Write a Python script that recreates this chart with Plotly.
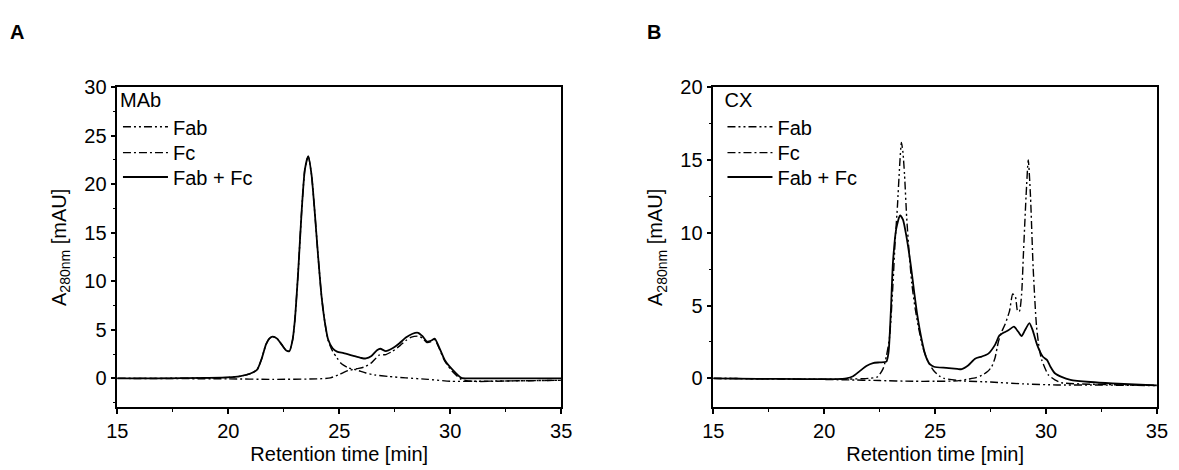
import plotly.graph_objects as go

# ---------------- Panel A (MAb) ----------------
a_total_t = [15, 17, 19, 20, 20.5, 21.0, 21.3, 21.5, 21.7, 21.85, 22.0, 22.2, 22.4, 22.6, 22.75, 22.9,
             23.0, 23.15, 23.3, 23.45, 23.6, 23.75, 23.9, 24.05, 24.2, 24.35, 24.5, 24.7, 24.9, 25.2,
             25.6, 26.0, 26.2, 26.45, 26.7, 26.85, 27.1, 27.4, 27.7, 28.0, 28.3, 28.55, 28.75, 28.95,
             29.15, 29.3, 29.5, 29.75, 30.1, 30.5, 30.9, 31.5, 33, 35]
a_total_v = [0.0, 0.0, 0.05, 0.1, 0.2, 0.5, 0.9, 2.0, 3.5, 4.1, 4.3, 4.1, 3.5, 2.9, 2.8, 4.0,
             6.0, 11.0, 17.0, 21.5, 22.9, 21.0, 17.0, 12.5, 8.5, 5.8, 4.0, 3.1, 2.75, 2.6,
             2.35, 2.1, 2.05, 2.3, 2.9, 3.05, 2.8, 3.1, 3.6, 4.2, 4.6, 4.7, 4.35, 3.8,
             3.9, 4.1, 3.2, 1.9, 0.9, 0.05, 0.0, 0.0, 0.0, 0.0]

a_fab_t = [15, 17, 19, 20, 20.5, 21.0, 21.3, 21.5, 21.7, 21.85, 22.0, 22.2, 22.4, 22.6, 22.75, 22.9,
           23.0, 23.15, 23.3, 23.45, 23.6, 23.75, 23.9, 24.05, 24.2, 24.35, 24.5, 24.7, 24.9, 25.1,
           25.4, 25.8, 26.2, 26.6, 27.2, 28.0, 29.0, 30.0, 31.0, 33.0, 35.0]
a_fab_v = [0.0, 0.0, 0.05, 0.1, 0.2, 0.5, 0.9, 2.0, 3.5, 4.1, 4.3, 4.1, 3.5, 2.9, 2.8, 4.0,
           6.0, 11.0, 17.0, 21.5, 22.9, 21.0, 17.0, 12.5, 8.5, 5.8, 3.9, 2.8, 2.1, 1.5,
           1.1, 0.85, 0.55, 0.35, 0.2, 0.05, -0.1, -0.3, -0.3, -0.25, -0.2]

a_fc_t = [15, 20, 22, 24, 24.6, 25.0, 25.4, 25.8, 26.1, 26.45, 26.8, 27.1, 27.4, 27.75, 28.0, 28.25,
          28.55, 28.75, 28.95, 29.15, 29.3, 29.5, 29.75, 30.1, 30.5, 31.0, 33.0, 35.0]
a_fc_v = [0.0, -0.05, -0.1, -0.05, 0.05, 0.4, 0.8, 1.0, 1.15, 1.6, 2.4, 2.45, 2.8, 3.4, 3.9, 4.25,
          4.35, 4.15, 3.7, 3.8, 4.0, 3.1, 1.8, 0.7, -0.1, -0.3, -0.25, -0.2]

# ---------------- Panel B (CX) ----------------
b_total_t = [15, 17, 19, 20.5, 21.0, 21.3, 21.6, 21.9, 22.2, 22.5, 22.8, 22.9, 23.0, 23.1, 23.25,
             23.42, 23.55, 23.7, 23.9, 24.05, 24.2, 24.4, 24.56, 24.75, 24.95, 25.5, 26.0, 26.2,
             26.5, 26.8, 27.1, 27.4, 27.7, 27.9, 28.1, 28.3, 28.55, 28.75, 28.9, 29.05, 29.25,
             29.4, 29.6, 29.85, 30.05, 30.2, 30.4, 30.7, 31.1, 32, 33, 34, 35]
b_total_v = [0.0, -0.03, -0.05, -0.05, 0.0, 0.15, 0.5, 0.85, 1.05, 1.1, 1.15, 1.8, 4.5, 8.0, 10.3,
             11.2, 10.9, 9.8, 7.8, 6.0, 4.3, 2.6, 1.6, 1.0, 0.8, 0.72, 0.65, 0.63,
             0.9, 1.35, 1.5, 1.7, 2.3, 2.95, 3.15, 3.3, 3.55, 3.2, 2.9, 3.3, 3.8,
             3.3, 2.3, 1.5, 1.25, 0.8, 0.35, 0.1, -0.1, -0.25, -0.35, -0.42, -0.48]

b_fab_t = [15, 19, 21, 22, 22.4, 22.65, 22.8, 22.95, 23.1, 23.2, 23.3, 23.4, 23.48, 23.55, 23.62,
           23.72, 23.82, 23.95, 24.1, 24.25, 24.45, 24.7, 24.92, 25.2, 25.4, 26.2, 27.5, 29.0,
           30.5, 32.0, 35.0]
b_fab_v = [0.0, -0.05, -0.05, 0.0, 0.1, 0.65, 1.5, 2.9, 6.5, 9.5, 11.8, 14.6, 16.2, 15.5, 14.0,
           11.0, 8.8, 6.5, 4.8, 3.5, 2.1, 1.1, 0.56, 0.15, 0.0, -0.17, -0.25, -0.38,
           -0.45, -0.45, -0.5]

b_fc_t = [15, 19, 21, 22.5, 24, 25, 26, 26.5, 26.85, 27.1, 27.35, 27.55, 27.7, 27.85, 28.0, 28.15,
          28.35, 28.5, 28.62, 28.72, 28.8, 28.9, 28.98, 29.1, 29.2, 29.3, 29.42, 29.57, 29.7,
          29.8, 30.1, 30.4, 30.7, 32, 35]
b_fc_v = [0.0, -0.05, -0.1, -0.15, -0.2, -0.2, -0.17, -0.05, 0.05, 0.2, 0.45, 0.8, 1.4, 2.5, 3.2, 3.7,
          4.6, 5.8, 5.6, 4.6, 4.6, 5.8, 8.5, 12.5, 15.0, 12.5, 7.6, 3.6, 2.0,
          1.3, 0.25, -0.1, -0.3, -0.4, -0.48]

x_ticks = [15, 20, 25, 30, 35]
a_yticks = [0, 5, 10, 15, 20, 25, 30]
b_yticks = [0, 5, 10, 15, 20]
series_names = ["Fab", "Fc", "Fab + Fc"]
panel_titles = ["MAb", "CX"]

FONT = "Arial, Liberation Sans, sans-serif"
FAB_DASH = "8px,3px,2px,3px,2px,3px"
FC_DASH = "8px,3px,2px,3px"
W, H = 1179, 470

fig = go.Figure()

def add_set(t_fab, v_fab, t_fc, v_fc, t_tot, v_tot, xa, ya, legs):
    styles = [dict(width=1.4, dash=FAB_DASH), dict(width=1.4, dash=FC_DASH), dict(width=1.8)]
    data = [(t_fab, v_fab), (t_fc, v_fc), (t_tot, v_tot)]
    for (t, v), name, st, leg in zip(data, series_names, styles, legs):
        fig.add_trace(go.Scatter(x=t, y=v, mode="lines", name=name, xaxis=xa, yaxis=ya,
                                 legend=leg,
                                 line=dict(color="black", shape="spline", smoothing=0.6, **st)))

add_set(a_fab_t, a_fab_v, a_fc_t, a_fc_v, a_total_t, a_total_v, "x", "y",
        ["legend", "legend3", "legend4"])
add_set(b_fab_t, b_fab_v, b_fc_t, b_fc_v, b_total_t, b_total_v, "x2", "y2",
        ["legend2", "legend5", "legend6"])

xa_dom = [108.3 / W, 560.7 / W]
xb_dom = [715.7 / W, 1167.7 / W]
y_dom = [(H - 406) / H, (H - 78) / H]

axis_common = dict(showline=True, linecolor="black", linewidth=1.5, mirror=True,
                   ticks="outside", ticklen=5, tickwidth=1.5, tickcolor="black",
                   showgrid=False, zeroline=False,
                   tickfont=dict(family=FONT, size=20, color="black"),
                   minor=dict(ticks="outside", ticklen=3, tickwidth=1.2, tickcolor="black",
                              dtick=2.5, showgrid=False))

ytitle = dict(text="A<sub>280nm</sub> [mAU]", font=dict(family=FONT, size=20, color="black"),
              standoff=12)
xtitle = dict(text="Retention time [min]", font=dict(family=FONT, size=20, color="black"),
              standoff=6)

legfont = dict(family=FONT, size=20, color="black")

def leg(x, y, yanchor, title=None):
    d = dict(x=x / W, y=(H - y) / H, xanchor="left", yanchor=yanchor,
             bgcolor="rgba(0,0,0,0)", borderwidth=0, itemwidth=45, tracegroupgap=0,
             font=legfont)
    if title:
        d["title"] = dict(text=title, font=legfont)
    return d

fig.update_layout(
    width=W, height=H, autosize=False,
    margin=dict(l=0, r=0, t=0, b=0),
    paper_bgcolor="white", plot_bgcolor="white",
    showlegend=True,
    xaxis=dict(domain=xa_dom, range=[15, 35], tickvals=x_ticks, anchor="y", title=xtitle, **axis_common),
    yaxis=dict(domain=y_dom, range=[-3, 30], tickvals=a_yticks, anchor="x", title=ytitle, **axis_common),
    xaxis2=dict(domain=xb_dom, range=[15, 35], tickvals=x_ticks, anchor="y2", title=xtitle, **axis_common),
    yaxis2=dict(domain=y_dom, range=[-2, 20], tickvals=b_yticks, anchor="x2", title=ytitle, **axis_common),
    legend=leg(109, 72, "top", panel_titles[0]),
    legend3=leg(109, 145, "middle"),
    legend4=leg(109, 170, "middle"),
    legend2=leg(725, 72, "top", panel_titles[1]),
    legend5=leg(725, 145, "middle"),
    legend6=leg(725, 170, "middle"),
    annotations=[
        dict(text="<b>A</b>", x=6 / W, y=(H - 22) / H, xref="paper", yref="paper",
             xanchor="center", yanchor="middle", showarrow=False,
             font=dict(family=FONT, size=20, color="black")),
        dict(text="<b>B</b>", x=655 / W, y=(H - 22) / H, xref="paper", yref="paper",
             xanchor="center", yanchor="middle", showarrow=False,
             font=dict(family=FONT, size=20, color="black")),
    ],
)

fig.write_html("out.html")
